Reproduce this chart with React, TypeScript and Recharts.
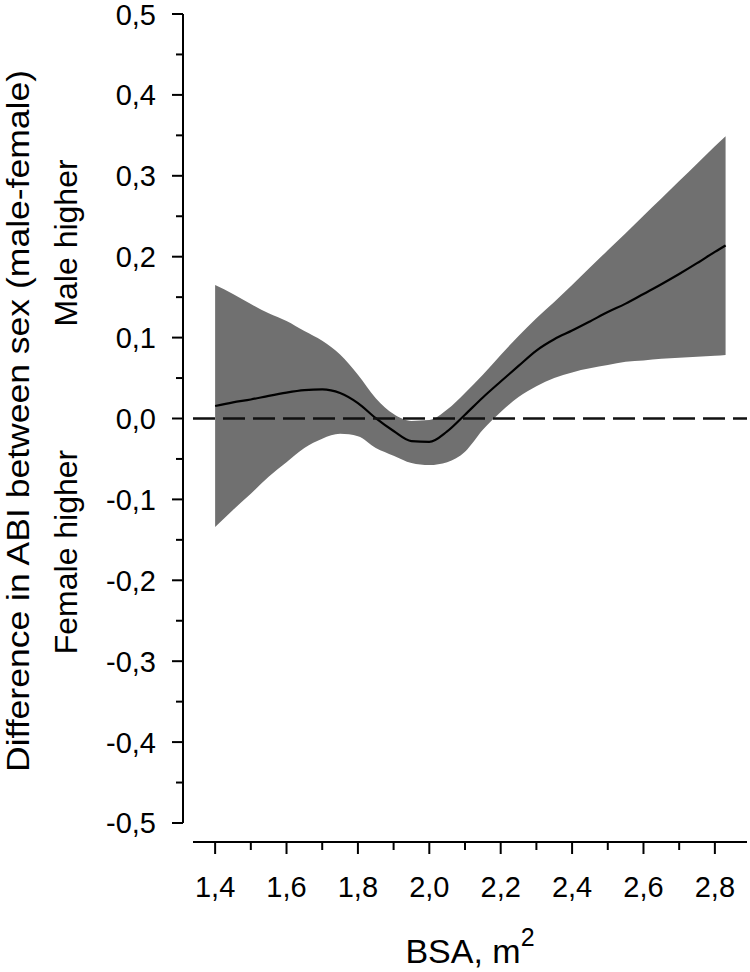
import { ComposedChart, Area, Line, XAxis, YAxis, ReferenceLine } from "recharts";

const BSA = [
  1.4, 1.45, 1.5, 1.55, 1.6, 1.65, 1.7, 1.75, 1.8, 1.85, 1.9, 1.95, 2.0, 2.05, 2.1,
  2.15, 2.2, 2.25, 2.3, 2.35, 2.4, 2.45, 2.5, 2.55, 2.6, 2.65, 2.7, 2.75, 2.8, 2.83,
];
const ESTIMATE = [
  0.0155, 0.02, 0.0235, 0.028, 0.032, 0.035, 0.036, 0.0315, 0.019, 0.0004, -0.0155, -0.028,
  -0.029, -0.016, 0.0047, 0.026, 0.0457, 0.065, 0.084, 0.098, 0.1087, 0.12, 0.1316, 0.142,
  0.154, 0.166, 0.1786, 0.192, 0.206, 0.214,
];
const UPPER = [
  0.165, 0.154, 0.1415, 0.13, 0.1205, 0.108, 0.096, 0.079, 0.054, 0.025, 0.0055, -0.003,
  -0.002, 0.011, 0.0315, 0.054, 0.0785, 0.102, 0.124, 0.144, 0.165, 0.1865, 0.208, 0.229,
  0.2507, 0.272, 0.2935, 0.315, 0.3365, 0.349,
];
const LOWER = [
  -0.134, -0.113, -0.093, -0.072, -0.054, -0.0365, -0.025, -0.019, -0.022, -0.0365, -0.046,
  -0.055, -0.0575, -0.054, -0.041, -0.014, 0.008, 0.0265, 0.04, 0.05, 0.057, 0.062, 0.066,
  0.07, 0.0717, 0.0738, 0.075, 0.0763, 0.0775, 0.0785,
];

const X_TICKS = [1.4, 1.5, 1.6, 1.7, 1.8, 1.9, 2.0, 2.1, 2.2, 2.3, 2.4, 2.5, 2.6, 2.7, 2.8];
const Y_TICKS = [
  -0.5, -0.45, -0.4, -0.35, -0.3, -0.25, -0.2, -0.15, -0.1, -0.05, 0, 0.05, 0.1, 0.15, 0.2,
  0.25, 0.3, 0.35, 0.4, 0.45, 0.5,
];

// axis extents (offset axes, SigmaPlot style)
const X_DOMAIN = [1.31, 2.89];
const Y_DOMAIN = [-0.5235, 0.5];
const X_LINE_START = 1.338;

const FONT = "'Liberation Sans', Arial, Helvetica, sans-serif";

const data = BSA.map((bsa, i) => ({
  bsa,
  est: ESTIMATE[i],
  band: [LOWER[i], UPPER[i]],
}));

const fmt = (v: number) => v.toFixed(1).replace(".", ",");

const YTick = ({ x, y, payload }: any) => {
  const v = payload.value;
  const major = Math.round(v * 100) % 10 === 0;
  return (
    <g>
      <line x1={x - (major ? 11 : 7)} x2={x} y1={y} y2={y} stroke="#000" strokeWidth={2} />
      {major && (
        <text x={x - 27} y={y} dy={10.5} textAnchor="end" fontSize={29} fontFamily={FONT} fill="#000">
          {fmt(v)}
        </text>
      )}
    </g>
  );
};

const XTick = ({ x, y, payload }: any) => {
  const v = payload.value;
  const major = Math.round(v * 10) % 2 === 0;
  return (
    <g>
      <line x1={x} x2={x} y1={y} y2={y + (major ? 12 : 8)} stroke="#000" strokeWidth={2} />
      {major && (
        <text x={x} y={y} dy={55} textAnchor="middle" fontSize={29} fontFamily={FONT} fill="#000">
          {fmt(v)}
        </text>
      )}
    </g>
  );
};

const YTitles = () => (
  <g fontFamily={FONT} fill="#000">
    <text
      x={29}
      y={421}
      transform="rotate(-90, 29, 421)"
      textAnchor="middle"
      fontSize={32}
      textLength={702}
      lengthAdjust="spacingAndGlyphs"
    >
      Difference in ABI between sex (male-female)
    </text>
    <text x={77} y={243} transform="rotate(-90, 77, 243)" textAnchor="middle" fontSize={32}>
      Male higher
    </text>
    <text x={77} y={552} transform="rotate(-90, 77, 552)" textAnchor="middle" fontSize={32}>
      Female higher
    </text>
  </g>
);

const XTitle = () => (
  <text x={470} y={963} textAnchor="middle" fontSize={34} fontFamily={FONT} fill="#000">
    BSA, m
    <tspan dy={-17} fontSize={25}>
      2
    </tspan>
  </text>
);

export default function App() {
  return (
    <div style={{ position: "absolute", left: 0, top: 0, background: "#fff" }}>
      <ComposedChart width={750} height={972} data={data} margin={{ top: 14, right: 3, left: 0, bottom: 0 }}>
        <XAxis
          dataKey="bsa"
          type="number"
          domain={X_DOMAIN}
          ticks={X_TICKS}
          interval={0}
          allowDataOverflow
          axisLine={false}
          tickLine={false}
          tickSize={0}
          tickMargin={0}
          height={130}
          tick={<XTick />}
          label={{ content: () => <XTitle /> }}
        />
        <YAxis
          type="number"
          domain={Y_DOMAIN}
          ticks={Y_TICKS}
          interval={0}
          allowDataOverflow
          axisLine={false}
          tickLine={false}
          tickSize={0}
          tickMargin={0}
          width={183}
          tick={<YTick />}
          label={{ content: () => <YTitles /> }}
        />
        <Area
          dataKey="band"
          type="monotone"
          fill="#707070"
          fillOpacity={1}
          stroke="none"
          isAnimationActive={false}
        />
        <Line
          dataKey="est"
          type="monotone"
          stroke="#000"
          strokeWidth={2.2}
          dot={false}
          activeDot={false}
          isAnimationActive={false}
        />
        <ReferenceLine
          segment={[{ x: X_LINE_START, y: 0 }, { x: X_DOMAIN[1], y: 0 }]}
          stroke="#111"
          strokeWidth={2.5}
          strokeDasharray="22 8"
          ifOverflow="visible"
        />
        <ReferenceLine
          segment={[{ x: X_DOMAIN[0], y: -0.5 }, { x: X_DOMAIN[0], y: 0.5 }]}
          stroke="#000"
          strokeWidth={2}
          ifOverflow="visible"
        />
        <ReferenceLine
          segment={[{ x: X_LINE_START, y: Y_DOMAIN[0] }, { x: X_DOMAIN[1], y: Y_DOMAIN[0] }]}
          stroke="#000"
          strokeWidth={2}
          ifOverflow="visible"
        />
      </ComposedChart>
    </div>
  );
}
